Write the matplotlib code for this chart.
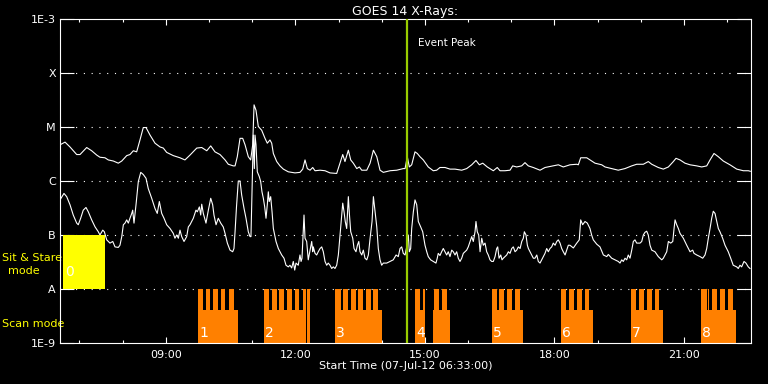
import matplotlib
matplotlib.use('Agg')
import matplotlib.pyplot as plt
import matplotlib.transforms as mtransforms
from matplotlib.ticker import NullLocator
import numpy as np

# time axis in minutes after 07-Jul-12 06:33:00
t_end = 960
hour_ticks = [147, 327, 507, 687, 867]
hour_labels = ['09:00', '12:00', '15:00', '18:00', '21:00']
hour_minor = [27, 87, 207, 267, 387, 447, 567, 627, 747, 807, 927]

class_ticks = [1e-9, 1e-8, 1e-7, 1e-6, 1e-5, 1e-4, 1e-3]
class_labels = ['1E-9', 'A', 'B', 'C', 'M', 'X', '1E-3']

# (minutes, log10 flux W/m^2)
long_pts = np.array([
    (0, -5.33), (7.0, -5.28), (13.9, -5.37), (23.2, -5.51), (27.8, -5.51), (37.1, -5.38), (44.0, -5.44),
    (51.0, -5.52), (55.5, -5.56), (62.5, -5.57), (67.1, -5.61), (74.1, -5.63), (81.0, -5.67), (85.8, -5.63),
    (92.7, -5.53), (97.2, -5.51), (101.9, -5.44), (106.5, -5.46), (111.1, -5.24), (115.7, -5.01), (119.5, -5.01),
    (125.1, -5.15), (132.0, -5.30), (139.0, -5.37), (143.5, -5.39), (148.2, -5.47), (157.4, -5.53), (166.7, -5.57),
    (173.6, -5.61), (180.6, -5.52), (190.0, -5.39), (196.9, -5.38), (203.9, -5.44), (209.4, -5.35), (215.3, -5.46),
    (222.3, -5.51), (229.3, -5.61), (233.8, -5.69), (240.7, -5.72), (243.2, -5.72), (246.3, -5.55), (250.1, -5.21),
    (253.8, -5.21), (257.1, -5.33), (261.6, -5.55), (264.9, -5.61), (267.7, -5.33), (269.6, -4.59), (272.3, -4.69),
    (275.5, -4.99), (280.2, -5.06), (284.8, -5.21), (288.0, -5.30), (291.7, -5.24), (294.1, -5.30), (296.4, -5.49),
    (301.1, -5.64), (305.6, -5.72), (310.3, -5.78), (317.2, -5.83), (326.5, -5.85), (333.4, -5.84), (337.2, -5.78),
    (340.4, -5.61), (343.6, -5.77), (347.4, -5.80), (351.1, -5.75), (354.3, -5.81), (361.3, -5.80), (368.2, -5.81),
    (375.1, -5.85), (384.4, -5.86), (389.0, -5.67), (392.8, -5.51), (395.9, -5.64), (400.6, -5.43), (403.9, -5.61),
    (407.5, -5.67), (412.3, -5.77), (415.9, -5.74), (419.2, -5.80), (426.2, -5.80), (430.8, -5.67), (435.4, -5.43),
    (440.1, -5.55), (444.6, -5.80), (449.2, -5.84), (458.5, -5.81), (467.9, -5.80), (476.9, -5.77), (479.4, -5.77),
    (482.5, -5.55), (485.3, -5.74), (488.6, -5.70), (493.2, -5.46), (496.4, -5.49), (500.1, -5.55), (504.7, -5.61),
    (511.6, -5.74), (518.6, -5.81), (523.3, -5.80), (527.9, -5.75), (534.9, -5.75), (541.8, -5.78), (548.8, -5.78),
    (558.1, -5.80), (565.0, -5.77), (572.0, -5.70), (577.9, -5.62), (582.6, -5.70), (587.3, -5.67), (593.6, -5.74),
    (602.0, -5.81), (607.5, -5.75), (611.3, -5.81), (618.2, -5.81), (625.2, -5.80), (628.9, -5.72), (634.4, -5.74),
    (641.4, -5.72), (646.0, -5.66), (650.6, -5.72), (657.5, -5.75), (666.9, -5.80), (673.8, -5.75), (685.3, -5.72),
    (692.3, -5.70), (699.2, -5.74), (708.5, -5.70), (717.9, -5.69), (720.1, -5.70), (723.4, -5.57), (731.8, -5.57),
    (736.3, -5.61), (743.3, -5.67), (752.6, -5.70), (757.2, -5.74), (766.5, -5.77), (775.6, -5.80), (784.9, -5.77),
    (794.3, -5.72), (801.2, -5.69), (810.4, -5.69), (817.3, -5.64), (822.1, -5.69), (831.2, -5.75), (838.2, -5.78),
    (845.2, -5.74), (852.1, -5.64), (855.8, -5.58), (861.4, -5.61), (868.3, -5.67), (875.3, -5.70), (884.6, -5.72),
    (891.5, -5.74), (898.5, -5.72), (903.1, -5.61), (908.6, -5.49), (914.6, -5.55), (921.5, -5.63), (930.8, -5.70),
    (940.2, -5.78), (949.4, -5.81), (956.3, -5.81), (959.0, -5.82),
])

short_pts = np.array([
    (0, -6.35), (5.5, -6.23), (9.3, -6.29), (13.9, -6.44), (18.4, -6.63), (23.2, -6.78), (25.4, -6.81),
    (28.7, -6.69), (32.3, -6.54), (36.1, -6.49), (39.3, -6.57), (44.0, -6.72), (48.7, -6.85), (53.2, -6.94),
    (55.5, -7.00), (59.4, -6.91), (61.6, -6.94), (64.9, -7.09), (69.4, -7.15), (73.3, -7.12), (76.4, -7.22),
    (81.0, -7.23), (83.3, -7.19), (85.8, -7.03), (88.0, -6.81), (90.3, -6.78), (92.7, -6.72), (94.9, -6.78),
    (97.2, -6.69), (99.7, -6.60), (101.0, -6.54), (102.8, -6.78), (105.6, -6.44), (108.8, -6.01), (112.2, -5.84),
    (115.7, -5.88), (119.5, -5.95), (122.6, -6.14), (127.4, -6.32), (132.0, -6.51), (135.1, -6.60), (138.0, -6.38),
    (141.3, -6.60), (144.5, -6.69), (148.2, -6.81), (152.9, -6.88), (157.4, -6.97), (159.7, -7.06), (162.1, -7.00),
    (164.4, -7.06), (166.7, -6.91), (169.1, -7.03), (172.3, -7.12), (176.0, -7.03), (178.3, -6.85), (180.6, -6.81),
    (185.2, -6.69), (188.9, -6.54), (190.8, -6.57), (193.6, -6.48), (195.5, -6.63), (196.9, -6.43), (199.1, -6.60),
    (202.8, -6.78), (206.1, -6.54), (209.4, -6.32), (212.1, -6.44), (213.9, -6.63), (216.8, -6.81), (219.9, -6.69),
    (223.3, -6.78), (226.8, -6.85), (229.3, -6.97), (232.5, -7.15), (236.2, -7.28), (239.9, -7.31), (241.7, -7.25),
    (243.2, -6.94), (245.2, -6.48), (247.7, -6.00), (250.1, -6.00), (252.4, -6.26), (255.7, -6.51), (258.4, -6.69),
    (261.6, -6.94), (264.0, -7.03), (265.3, -7.03), (266.7, -6.26), (268.6, -5.15), (270.0, -5.77), (270.9, -5.15),
    (272.3, -5.33), (274.1, -5.83), (276.9, -5.92), (278.8, -6.01), (280.6, -6.20), (282.5, -6.32), (284.4, -6.48),
    (286.2, -6.69), (288.0, -6.44), (289.4, -6.20), (290.7, -6.38), (292.7, -6.29), (294.6, -6.57), (296.4, -6.88),
    (300.1, -7.12), (303.3, -7.25), (308.0, -7.37), (311.2, -7.43), (314.0, -7.56), (317.2, -7.59), (319.5, -7.56),
    (321.9, -7.61), (324.1, -7.49), (326.1, -7.65), (327.9, -7.52), (331.0, -7.56), (333.4, -7.37), (334.9, -7.49),
    (336.2, -7.43), (338.0, -6.94), (339.0, -6.63), (340.4, -7.06), (342.7, -7.12), (344.9, -7.46), (347.4, -7.28),
    (349.7, -7.12), (351.1, -7.31), (351.9, -7.22), (354.3, -7.34), (356.6, -7.37), (358.8, -7.31), (361.3, -7.25),
    (363.6, -7.22), (365.8, -7.31), (368.2, -7.49), (370.5, -7.56), (372.7, -7.52), (375.1, -7.56), (377.5, -7.62),
    (379.7, -7.59), (382.0, -7.62), (384.4, -7.56), (386.7, -7.37), (389.0, -7.00), (391.4, -6.60), (392.8, -6.41),
    (394.6, -6.57), (396.3, -6.75), (398.3, -6.88), (400.6, -6.29), (402.0, -6.60), (403.9, -6.94), (406.7, -7.06),
    (408.5, -7.25), (411.2, -7.31), (413.2, -7.19), (415.1, -7.12), (416.8, -7.31), (419.2, -7.37), (421.4, -7.28),
    (423.7, -7.43), (426.2, -7.46), (428.4, -7.37), (430.8, -7.06), (433.5, -6.75), (435.4, -6.29), (437.7, -6.57),
    (440.1, -6.85), (442.2, -7.25), (444.6, -7.46), (446.9, -7.56), (449.2, -7.52), (453.9, -7.52), (458.5, -7.49),
    (463.0, -7.46), (466.9, -7.37), (470.0, -7.40), (472.4, -7.25), (474.7, -7.22), (476.9, -7.34), (479.4, -7.37),
    (481.7, -7.22), (483.9, -7.00), (485.3, -7.31), (487.2, -7.25), (488.6, -6.88), (490.9, -6.57), (493.2, -6.35),
    (495.6, -6.44), (497.8, -6.75), (501.1, -6.85), (503.9, -6.94), (507.1, -7.19), (509.5, -7.31), (511.6, -7.40),
    (514.9, -7.46), (518.6, -7.49), (522.3, -7.52), (524.1, -7.43), (525.5, -7.34), (527.9, -7.38), (530.2, -7.31),
    (532.5, -7.25), (534.9, -7.31), (537.2, -7.37), (539.4, -7.31), (541.8, -7.40), (544.2, -7.28), (546.4, -7.31),
    (548.8, -7.37), (551.1, -7.31), (553.3, -7.43), (555.7, -7.49), (558.1, -7.43), (560.3, -7.34), (562.7, -7.31),
    (565.0, -7.28), (567.2, -7.22), (569.7, -7.12), (572.0, -7.03), (574.2, -7.12), (576.6, -6.94), (577.9, -6.75),
    (579.7, -6.94), (581.7, -7.00), (583.6, -7.31), (585.9, -7.06), (588.1, -7.19), (590.5, -7.15), (592.8, -7.31),
    (595.0, -7.37), (597.4, -7.46), (599.8, -7.49), (602.0, -7.49), (604.4, -7.40), (606.7, -7.25), (608.1, -7.22),
    (610.0, -7.43), (612.3, -7.37), (614.1, -7.46), (615.9, -7.43), (618.2, -7.40), (620.6, -7.37), (622.9, -7.31),
    (625.2, -7.34), (627.6, -7.25), (629.8, -7.22), (632.2, -7.31), (634.5, -7.28), (636.8, -7.22), (639.2, -7.25),
    (641.5, -7.12), (643.7, -7.06), (645.1, -6.94), (647.4, -7.00), (649.3, -7.19), (650.7, -7.25), (653.0, -7.31),
    (655.4, -7.37), (657.6, -7.43), (659.9, -7.43), (662.4, -7.37), (664.5, -7.49), (666.9, -7.52), (669.2, -7.46),
    (671.4, -7.40), (673.8, -7.34), (676.2, -7.25), (678.4, -7.31), (680.8, -7.25), (683.1, -7.22), (685.3, -7.15),
    (687.8, -7.19), (690.1, -7.12), (692.3, -7.09), (694.7, -7.15), (697.0, -7.25), (699.2, -7.31), (701.7, -7.37),
    (704.0, -7.28), (706.2, -7.19), (708.5, -7.19), (713.2, -7.24), (717.9, -7.15), (721.4, -7.09), (723.4, -6.72),
    (726.1, -6.81), (729.4, -6.75), (732.6, -6.78), (736.3, -6.88), (738.6, -7.00), (740.9, -7.09), (745.7, -7.17),
    (750.2, -7.22), (754.9, -7.37), (759.6, -7.40), (761.8, -7.36), (766.5, -7.43), (771.1, -7.46), (775.6, -7.49),
    (778.0, -7.52), (780.4, -7.46), (782.6, -7.49), (785.0, -7.43), (787.3, -7.46), (789.5, -7.37), (791.9, -7.43),
    (794.3, -7.28), (796.5, -7.12), (798.8, -7.09), (801.2, -7.15), (805.8, -7.15), (808.2, -7.12), (810.4, -7.00),
    (812.7, -6.95), (815.1, -6.93), (817.3, -7.00), (819.7, -7.19), (822.1, -7.28), (826.6, -7.31), (831.2, -7.40),
    (836.0, -7.46), (838.2, -7.43), (840.6, -7.37), (842.9, -7.31), (845.2, -7.12), (848.5, -7.15), (851.3, -7.12),
    (853.1, -6.88), (854.5, -6.72), (856.8, -6.81), (859.1, -6.88), (861.4, -6.97), (866.0, -7.06), (870.7, -7.19),
    (875.3, -7.31), (879.0, -7.28), (880.8, -7.34), (884.6, -7.37), (889.2, -7.40), (892.9, -7.43), (896.1, -7.37),
    (898.5, -7.25), (900.7, -7.06), (903.1, -6.88), (905.4, -6.69), (907.6, -6.56), (910.0, -6.60), (912.4, -6.75),
    (914.6, -6.88), (916.9, -6.94), (920.6, -7.06), (923.9, -7.19), (928.4, -7.31), (931.8, -7.43), (935.3, -7.56),
    (940.1, -7.59), (942.3, -7.62), (944.7, -7.56), (947.0, -7.59), (950.3, -7.49), (953.0, -7.52), (956.2, -7.59),
    (958.6, -7.62),
])

event_peak = 482
event_text = 'Event Peak'

# instrument modes (minutes)
sit_stare = (4.2, 62.5)
scan_blocks = [(191.7, 247.3), (283.4, 341.8), (382.5, 447.4), (493.0, 506.9), (518.2, 541.4),
               (600.2, 643.3), (696.0, 740.5), (793.2, 837.7), (890.5, 939.1)]
scan_teeth = [(191.7, 198.7), (202.8, 208.8), (213.0, 219.1), (223.7, 229.7), (234.4, 241.3),
              (283.4, 290.8), (294.9, 301.1), (304.7, 311.2), (315.4, 321.9), (326.1, 332.5), (337.6, 341.8), (343.2, 347.4),
              (382.5, 390.4), (393.6, 400.5), (403.9, 410.8), (414.4, 421.4), (424.7, 431.7), (435.3, 441.8),
              (493.0, 500.0), (504.7, 507.1), (519.6, 526.1), (530.7, 537.3),
              (600.2, 607.1), (610.3, 616.9), (621.0, 627.9), (632.1, 639.1),
              (696.0, 702.9), (707.6, 714.1), (718.3, 725.3), (729.4, 735.4),
              (793.2, 800.2), (804.3, 811.3), (815.4, 822.4), (826.2, 832.6),
              (890.5, 898.5), (900.3, 901.2), (905.8, 912.8), (916.9, 923.9), (928.1, 935.0)]
scan_numbers = ['1', '2', '3', '4', '5', '6', '7', '8']
scan_starts = [191.7, 283.4, 382.5, 493.0, 600.2, 696.0, 793.2, 890.5]
block_top = 4.1e-9

orange = '#ff8000'
yellow = '#ffff00'

fig = plt.figure(figsize=(7.68, 3.84), dpi=100, facecolor='black')
ax = fig.add_axes([60 / 768, 41 / 384, 691 / 768, 324 / 384])
ax.set_facecolor('none')
ax.set_yscale('log')
ax.set_xlim(0, t_end)
ax.set_ylim(1e-9, 1e-3)

for s in ax.spines.values():
    s.set_color('white')
    s.set_linewidth(0.8)

ax.set_yticks(class_ticks)
ax.set_yticklabels(class_labels)
ax.yaxis.set_minor_locator(NullLocator())
ax.tick_params(axis='y', which='major', direction='in', length=10, width=0.8, colors='white',
               left=True, right=True, labelsize=8, pad=3)
ax.set_xticks(hour_ticks)
ax.set_xticklabels(hour_labels)
ax.set_xticks(hour_minor, minor=True)
ax.tick_params(axis='x', which='major', direction='in', length=4.5, width=0.8, colors='white',
               top=True, bottom=True, labelsize=8, pad=5)
ax.tick_params(axis='x', which='minor', direction='in', length=2.5, width=0.8, colors='white',
               top=True, bottom=True)

for v in class_ticks[1:-1]:
    ax.axhline(v, color='white', lw=0.8, ls=(0, (1, 6)), zorder=1)

# scan mode comb
b0 = np.array([b[0] for b in scan_blocks])
b1 = np.array([b[1] for b in scan_blocks])
ax.bar(b0, block_top - 1e-9, width=b1 - b0, bottom=1e-9, align='edge', color=orange, lw=0, zorder=2)
k0 = np.array([k[0] for k in scan_teeth])
k1 = np.array([k[1] for k in scan_teeth])
ax.bar(k0, 1e-8 - 1e-9, width=k1 - k0, bottom=1e-9, align='edge', color=orange, lw=0, zorder=2)
for name, st in zip(scan_numbers, scan_starts):
    ax.text(st + 1.5, 10 ** -8.82, name, color='white', fontsize=10, ha='left', va='center', zorder=6)

# sit & stare box
ax.bar([sit_stare[0]], [9e-8], width=sit_stare[1] - sit_stare[0], bottom=1e-8, align='edge',
       color=yellow, lw=0, zorder=4)
ax.text(sit_stare[0] + 2.7, 10 ** -7.69, '0', color='#fffff0', fontsize=10, ha='left', va='center', zorder=6)

ax.plot(long_pts[:, 0], 10 ** long_pts[:, 1], color='white', lw=0.8, zorder=3)
ax.plot(short_pts[:, 0], 10 ** short_pts[:, 1], color='white', lw=0.8, zorder=3)

ax.axvline(event_peak, color='#99cc00', lw=1.6, zorder=5)
ax.text(event_peak + 15, 10 ** -3.44, event_text, color='white', fontsize=7.5, ha='left', va='center')

trans = mtransforms.blended_transform_factory(fig.transFigure, ax.transData)
ax.text(2 / 768, 10 ** -7.426, 'Sit & Stare', color=yellow, fontsize=8, ha='left', va='center',
        transform=trans, clip_on=False, zorder=1)
ax.text(24 / 768, 10 ** -7.667, 'mode', color=yellow, fontsize=8, ha='center', va='center',
        transform=trans, clip_on=False, zorder=1)
ax.text(2 / 768, 10 ** -8.648, 'Scan mode', color=yellow, fontsize=8, ha='left', va='center',
        transform=trans, clip_on=False, zorder=1)

ax.set_title('GOES 14 X-Rays:', color='white', fontsize=9, pad=3)
ax.set_xlabel('Start Time (07-Jul-12 06:33:00)', color='white', fontsize=8, labelpad=1)

fig.savefig('out.png', dpi=100, facecolor='black')
